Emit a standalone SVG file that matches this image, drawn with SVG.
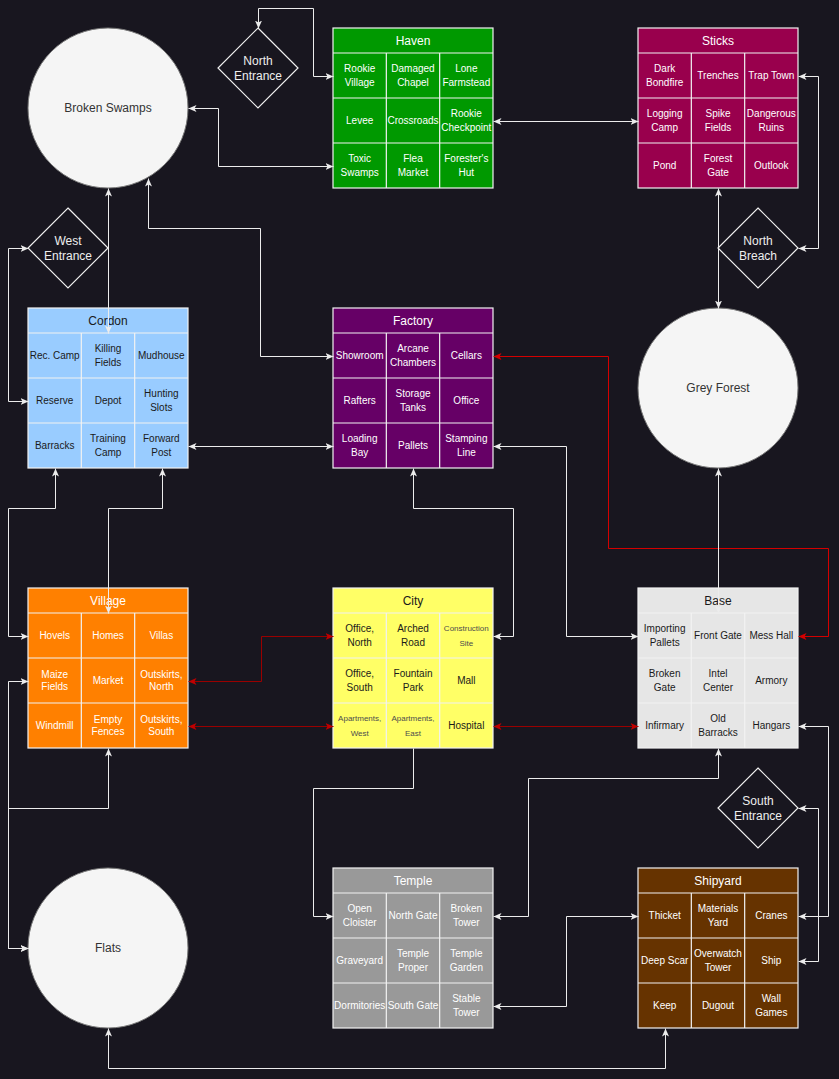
<svg xmlns="http://www.w3.org/2000/svg" width="839" height="1079" viewBox="0 0 839 1079">
<defs>
<style>
text{font-family:"Liberation Sans",Arial,sans-serif;text-anchor:middle}
.c{font-size:10px}
.s{font-size:8px}
.t{font-size:12px}
.lt text{fill:#ffffff}
.dk text{fill:#1a1a1a}
.box{stroke:#f2f2f2;stroke-width:1.2}
.grid{stroke:#f2f2f2;stroke-width:1.2;fill:none}
.circ{fill:#f5f5f5;stroke:#777;stroke-width:1}
.circ-l{fill:#333;font-size:12px}
.dia{fill:none;stroke:#f0f0f0;stroke-width:1.2}
.dia-l{fill:#eeeeee;font-size:12px}
.w{fill:none;stroke:#ececec;stroke-width:1;marker-start:url(#aw);marker-end:url(#aw)}
.r{fill:none;stroke:#d40000;stroke-width:1;marker-start:url(#ar);marker-end:url(#ar)}
.dr{fill:none;stroke:#9a0000;stroke-width:1;marker-start:url(#adr);marker-end:url(#adr)}
</style>
<marker id="aw" viewBox="0 0 8 7" refX="8" refY="3.5" markerWidth="8" markerHeight="7" markerUnits="userSpaceOnUse" orient="auto-start-reverse"><path d="M0,0L8,3.5L0,7L2,3.5Z" fill="#ececec"/></marker>
<marker id="ar" viewBox="0 0 8 7" refX="8" refY="3.5" markerWidth="8" markerHeight="7" markerUnits="userSpaceOnUse" orient="auto-start-reverse"><path d="M0,0L8,3.5L0,7L2,3.5Z" fill="#d40000"/></marker>
<marker id="adr" viewBox="0 0 8 7" refX="8" refY="3.5" markerWidth="8" markerHeight="7" markerUnits="userSpaceOnUse" orient="auto-start-reverse"><path d="M0,0L8,3.5L0,7L2,3.5Z" fill="#c00000"/></marker>
</defs>
<rect x="0" y="0" width="839" height="1079" fill="#18161f"/>

<g id="broken-swamps"><circle class="circ" cx="108" cy="108" r="80"/><text class="circ-l" x="108" y="112.3">Broken Swamps</text></g>
<g id="grey-forest"><circle class="circ" cx="718" cy="388" r="80"/><text class="circ-l" x="718" y="392.3">Grey Forest</text></g>
<g id="flats"><circle class="circ" cx="108" cy="948" r="80"/><text class="circ-l" x="108" y="952.3">Flats</text></g>

<g id="north-entrance"><polygon class="dia" points="258,28 298,68 258,108 218,68"/><text class="dia-l"><tspan x="258" y="65">North</tspan><tspan x="258" y="80">Entrance</tspan></text></g>
<g id="west-entrance"><polygon class="dia" points="68,208 108,248 68,288 28,248"/><text class="dia-l"><tspan x="68" y="245">West</tspan><tspan x="68" y="260">Entrance</tspan></text></g>
<g id="north-breach"><polygon class="dia" points="758,208 798,248 758,288 718,248"/><text class="dia-l"><tspan x="758" y="245">North</tspan><tspan x="758" y="260">Breach</tspan></text></g>
<g id="south-entrance"><polygon class="dia" points="758,768 798,808 758,848 718,808"/><text class="dia-l"><tspan x="758" y="805">South</tspan><tspan x="758" y="820">Entrance</tspan></text></g>

<g id="haven" class="lt" transform="translate(333,28)">
<rect class="box" width="160" height="160" fill="#009900"/>
<path class="grid" d="M0,25H160M0,70H160M0,115H160M53.33,25V160M106.67,25V160"/>
<text class="t" x="80" y="16.8">Haven</text>
<text class="c"><tspan x="26.67" y="44.1">Rookie</tspan><tspan x="26.67" y="58.1">Village</tspan></text>
<text class="c"><tspan x="80" y="44.1">Damaged</tspan><tspan x="80" y="58.1">Chapel</tspan></text>
<text class="c"><tspan x="133.33" y="44.1">Lone</tspan><tspan x="133.33" y="58.1">Farmstead</tspan></text>
<text class="c" x="26.67" y="96.1">Levee</text>
<text class="c" x="80" y="96.1">Crossroads</text>
<text class="c"><tspan x="133.33" y="89.1">Rookie</tspan><tspan x="133.33" y="103.1">Checkpoint</tspan></text>
<text class="c"><tspan x="26.67" y="134.1">Toxic</tspan><tspan x="26.67" y="148.1">Swamps</tspan></text>
<text class="c"><tspan x="80" y="134.1">Flea</tspan><tspan x="80" y="148.1">Market</tspan></text>
<text class="c"><tspan x="133.33" y="134.1">Forester's</tspan><tspan x="133.33" y="148.1">Hut</tspan></text>
</g>

<g id="sticks" class="lt" transform="translate(638,28)">
<rect class="box" width="160" height="160" fill="#99004d"/>
<path class="grid" d="M0,25H160M0,70H160M0,115H160M53.33,25V160M106.67,25V160"/>
<text class="t" x="80" y="16.8">Sticks</text>
<text class="c"><tspan x="26.67" y="44.1">Dark</tspan><tspan x="26.67" y="58.1">Bondfire</tspan></text>
<text class="c" x="80" y="51.1">Trenches</text>
<text class="c" x="133.33" y="51.1">Trap Town</text>
<text class="c"><tspan x="26.67" y="89.1">Logging</tspan><tspan x="26.67" y="103.1">Camp</tspan></text>
<text class="c"><tspan x="80" y="89.1">Spike</tspan><tspan x="80" y="103.1">Fields</tspan></text>
<text class="c"><tspan x="133.33" y="89.1">Dangerous</tspan><tspan x="133.33" y="103.1">Ruins</tspan></text>
<text class="c" x="26.67" y="141.1">Pond</text>
<text class="c"><tspan x="80" y="134.1">Forest</tspan><tspan x="80" y="148.1">Gate</tspan></text>
<text class="c" x="133.33" y="141.1">Outlook</text>
</g>

<g id="cordon" class="dk" transform="translate(28,308)">
<rect class="box" width="160" height="160" fill="#99ccff"/>
<path class="grid" d="M0,25H160M0,70H160M0,115H160M53.33,25V160M106.67,25V160"/>
<text class="t" x="80" y="16.8">Cordon</text>
<text class="c" x="26.67" y="51.1">Rec. Camp</text>
<text class="c"><tspan x="80" y="44.1">Killing</tspan><tspan x="80" y="58.1">Fields</tspan></text>
<text class="c" x="133.33" y="51.1">Mudhouse</text>
<text class="c" x="26.67" y="96.1">Reserve</text>
<text class="c" x="80" y="96.1">Depot</text>
<text class="c"><tspan x="133.33" y="89.1">Hunting</tspan><tspan x="133.33" y="103.1">Slots</tspan></text>
<text class="c" x="26.67" y="141.1">Barracks</text>
<text class="c"><tspan x="80" y="134.1">Training</tspan><tspan x="80" y="148.1">Camp</tspan></text>
<text class="c"><tspan x="133.33" y="134.1">Forward</tspan><tspan x="133.33" y="148.1">Post</tspan></text>
</g>

<g id="factory" class="lt" transform="translate(333,308)">
<rect class="box" width="160" height="160" fill="#660066"/>
<path class="grid" d="M0,25H160M0,70H160M0,115H160M53.33,25V160M106.67,25V160"/>
<text class="t" x="80" y="16.8">Factory</text>
<text class="c" x="26.67" y="51.1">Showroom</text>
<text class="c"><tspan x="80" y="44.1">Arcane</tspan><tspan x="80" y="58.1">Chambers</tspan></text>
<text class="c" x="133.33" y="51.1">Cellars</text>
<text class="c" x="26.67" y="96.1">Rafters</text>
<text class="c"><tspan x="80" y="89.1">Storage</tspan><tspan x="80" y="103.1">Tanks</tspan></text>
<text class="c" x="133.33" y="96.1">Office</text>
<text class="c"><tspan x="26.67" y="134.1">Loading</tspan><tspan x="26.67" y="148.1">Bay</tspan></text>
<text class="c" x="80" y="141.1">Pallets</text>
<text class="c"><tspan x="133.33" y="134.1">Stamping</tspan><tspan x="133.33" y="148.1">Line</tspan></text>
</g>

<g id="village" class="lt" transform="translate(28,588)">
<rect class="box" width="160" height="160" fill="#ff8000"/>
<path class="grid" d="M0,25H160M0,70H160M0,115H160M53.33,25V160M106.67,25V160"/>
<text class="t" x="80" y="16.8">Village</text>
<text class="c" x="26.67" y="51.1">Hovels</text>
<text class="c" x="80" y="51.1">Homes</text>
<text class="c" x="133.33" y="51.1">Villas</text>
<text class="c"><tspan x="26.67" y="90.1">Maize</tspan><tspan x="26.67" y="102.1">Fields</tspan></text>
<text class="c" x="80" y="96.1">Market</text>
<text class="c"><tspan x="133.33" y="90.1">Outskirts,</tspan><tspan x="133.33" y="102.1">North</tspan></text>
<text class="c" x="26.67" y="141.1">Windmill</text>
<text class="c"><tspan x="80" y="135.1">Empty</tspan><tspan x="80" y="147.1">Fences</tspan></text>
<text class="c"><tspan x="133.33" y="135.1">Outskirts,</tspan><tspan x="133.33" y="147.1">South</tspan></text>
</g>

<g id="city" class="dk" transform="translate(333,588)">
<rect class="box" width="160" height="160" fill="#ffff66"/>
<path class="grid" d="M0,25H160M0,70H160M0,115H160M53.33,25V160M106.67,25V160"/>
<text class="t" x="80" y="16.8">City</text>
<text class="c"><tspan x="26.67" y="44.1">Office,</tspan><tspan x="26.67" y="58.1">North</tspan></text>
<text class="c"><tspan x="80" y="44.1">Arched</tspan><tspan x="80" y="58.1">Road</tspan></text>
<text class="s" style="fill:#4d4d4d"><tspan x="133.33" y="42.9">Construction</tspan><tspan x="133.33" y="57.9">Site</tspan></text>
<text class="c"><tspan x="26.67" y="89.1">Office,</tspan><tspan x="26.67" y="103.1">South</tspan></text>
<text class="c"><tspan x="80" y="89.1">Fountain</tspan><tspan x="80" y="103.1">Park</tspan></text>
<text class="c" x="133.33" y="96.1">Mall</text>
<text class="s" style="fill:#4d4d4d"><tspan x="26.67" y="132.9">Apartments,</tspan><tspan x="26.67" y="147.9">West</tspan></text>
<text class="s" style="fill:#4d4d4d"><tspan x="80" y="132.9">Apartments,</tspan><tspan x="80" y="147.9">East</tspan></text>
<text class="c" x="133.33" y="141.1">Hospital</text>
</g>

<g id="base" class="dk" transform="translate(638,588)">
<rect class="box" width="160" height="160" fill="#e6e6e6"/>
<path class="grid" d="M0,25H160M0,70H160M0,115H160M53.33,25V160M106.67,25V160"/>
<text class="t" x="80" y="16.8">Base</text>
<text class="c"><tspan x="26.67" y="44.1">Importing</tspan><tspan x="26.67" y="58.1">Pallets</tspan></text>
<text class="c" x="80" y="51.1">Front Gate</text>
<text class="c" x="133.33" y="51.1">Mess Hall</text>
<text class="c"><tspan x="26.67" y="89.1">Broken</tspan><tspan x="26.67" y="103.1">Gate</tspan></text>
<text class="c"><tspan x="80" y="89.1">Intel</tspan><tspan x="80" y="103.1">Center</tspan></text>
<text class="c" x="133.33" y="96.1">Armory</text>
<text class="c" x="26.67" y="141.1">Infirmary</text>
<text class="c"><tspan x="80" y="134.1">Old</tspan><tspan x="80" y="148.1">Barracks</tspan></text>
<text class="c" x="133.33" y="141.1">Hangars</text>
</g>

<g id="temple" class="lt" transform="translate(333,868)">
<rect class="box" width="160" height="160" fill="#999999"/>
<path class="grid" d="M0,25H160M0,70H160M0,115H160M53.33,25V160M106.67,25V160"/>
<text class="t" x="80" y="16.8">Temple</text>
<text class="c"><tspan x="26.67" y="44.1">Open</tspan><tspan x="26.67" y="58.1">Cloister</tspan></text>
<text class="c" x="80" y="51.1">North Gate</text>
<text class="c"><tspan x="133.33" y="44.1">Broken</tspan><tspan x="133.33" y="58.1">Tower</tspan></text>
<text class="c" x="26.67" y="96.1">Graveyard</text>
<text class="c"><tspan x="80" y="89.1">Temple</tspan><tspan x="80" y="103.1">Proper</tspan></text>
<text class="c"><tspan x="133.33" y="89.1">Temple</tspan><tspan x="133.33" y="103.1">Garden</tspan></text>
<text class="c" x="26.67" y="141.1">Dormitories</text>
<text class="c" x="80" y="141.1">South Gate</text>
<text class="c"><tspan x="133.33" y="134.1">Stable</tspan><tspan x="133.33" y="148.1">Tower</tspan></text>
</g>

<g id="shipyard" class="lt" transform="translate(638,868)">
<rect class="box" width="160" height="160" fill="#663300"/>
<path class="grid" d="M0,25H160M0,70H160M0,115H160M53.33,25V160M106.67,25V160"/>
<text class="t" x="80" y="16.8">Shipyard</text>
<text class="c" x="26.67" y="51.1">Thicket</text>
<text class="c"><tspan x="80" y="44.1">Materials</tspan><tspan x="80" y="58.1">Yard</tspan></text>
<text class="c" x="133.33" y="51.1">Cranes</text>
<text class="c" x="26.67" y="96.1">Deep Scar</text>
<text class="c"><tspan x="80" y="89.1">Overwatch</tspan><tspan x="80" y="103.1">Tower</tspan></text>
<text class="c" x="133.33" y="96.1">Ship</text>
<text class="c" x="26.67" y="141.1">Keep</text>
<text class="c" x="80" y="141.1">Dugout</text>
<text class="c"><tspan x="133.33" y="134.1">Wall</tspan><tspan x="133.33" y="148.1">Games</tspan></text>
</g>

<g id="connectors" transform="translate(0.5,0.5)">
<path class="w" d="M258,28V8H313V76H333"/>
<path class="w" d="M188,108H218V166H333"/>
<path class="w" d="M493,121H638"/>
<path class="w" d="M798,76H818V248H798"/>
<path class="w" d="M718,188V308"/>
<path class="w" d="M108,188V333"/>
<path class="w" d="M28,248H8V401H28"/>
<path class="w" d="M148,178V228H260V356H333"/>
<path class="w" d="M188,446H333"/>
<path class="w" d="M55,468V508H8V636H28"/>
<path class="w" d="M162,468V508H108V613"/>
<path class="w" d="M413,468V508H513V636H493"/>
<path class="w" d="M493,446H566V636H638"/>
<path class="r" d="M493,356H608V548H828V636H798"/>
<path class="dr" d="M188,681H261V636H333"/>
<path class="dr" d="M188,726H333"/>
<path class="dr" d="M493,726H638"/>
<path class="w" d="M718,468V613"/>
<path class="w" d="M798,726H828V916H798"/>
<path class="w" d="M798,808H818V961H798"/>
<path class="w" d="M718,748V778H528V916H493"/>
<path class="w" d="M413,748V788H313V916H333" style="marker-start:none"/>
<path class="w" d="M493,1006H566V916H638"/>
<path class="w" d="M108,1028V1068H665V1028"/>
<path class="w" d="M28,681H8V948H28"/>
<path class="w" d="M108,748V808H8V948H28"/>
</g>
</svg>
